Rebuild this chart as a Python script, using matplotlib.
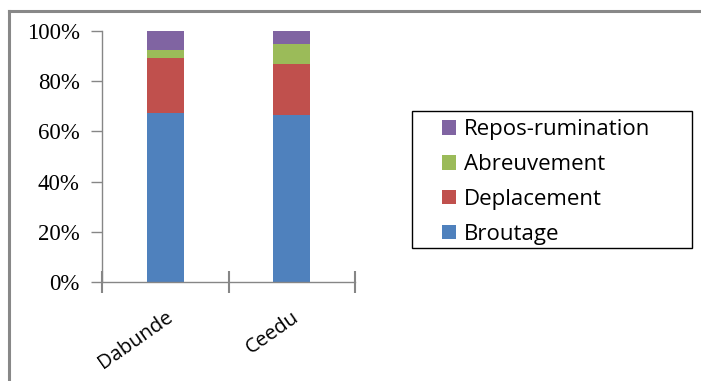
import numpy as np
import matplotlib.pyplot as plt
from matplotlib.lines import Line2D
from matplotlib.patches import Rectangle

# Data (percent of time per activity)
sites = ['Dabunde', 'Ceedu']
activities = ['Broutage', 'Deplacement', 'Abreuvement', 'Repos-rumination']
broutage = [67.3, 66.4]
deplacement = [21.9, 20.5]
abreuvement = [3.2, 8.0]
repos = [7.6, 5.1]
colors = ['#4F81BD', '#C0504D', '#9BBB59', '#8064A2']

series = [broutage, deplacement, abreuvement, repos]

fig = plt.figure(figsize=(7.01, 3.81), dpi=100)
ax = fig.add_axes([102 / 701, 1 - 282 / 381, 253 / 701, 251 / 381])

x = np.arange(len(sites))
bottom = np.zeros(len(sites))
handles = []
for vals, name, col in zip(series, activities, colors):
    b = ax.bar(x, vals, width=0.29, bottom=bottom, color=col, label=name)
    handles.append(b)
    bottom += np.array(vals)

ax.set_xlim(-0.5, len(sites) - 0.5)
ax.set_ylim(0, 100)

# y axis
ax.set_yticks(np.arange(0, 101, 20))
ax.set_yticklabels([f'{v}%' for v in range(0, 101, 20)],
                   family='Liberation Serif', fontsize=16.5)
ax.tick_params(axis='y', length=8, width=1, color='#868686', pad=8)

# x axis: boundary ticks crossing the axis, labels between
ax.set_xticks(np.arange(-0.5, len(sites), 1.0))
ax.set_xticklabels([])
ax.tick_params(axis='x', which='major', direction='inout', length=16,
               width=1.5, color='#868686')
ax.set_xticks(x, minor=True)
ax.set_xticklabels(sites, minor=True, rotation=35, ha='right',
                   rotation_mode='anchor', family='Open Sans', fontsize=14.5)
ax.tick_params(axis='x', which='minor', length=0, pad=18)

for s in ['top', 'right']:
    ax.spines[s].set_visible(False)
for s in ['left', 'bottom']:
    ax.spines[s].set_color('#868686')
    ax.spines[s].set_linewidth(1)

# legend box drawn separately, entries placed inside
fig.add_artist(Rectangle((412 / 701, 1 - 248 / 381), 280 / 701, 137 / 381,
                         transform=fig.transFigure, fill=False,
                         edgecolor='black', lw=1))
leg = fig.legend(handles[::-1], activities[::-1],
                 loc='upper left', bbox_to_anchor=(438 / 701, 1 - 115 / 381),
                 frameon=False,
                 prop={'family': 'Open Sans', 'size': 16},
                 handlelength=0.62, handleheight=0.62, handletextpad=0.35,
                 labelspacing=0.62, borderpad=0.2, borderaxespad=0)

# outer chart frame (top and left only)
fig.add_artist(Line2D([9 / 701, 1], [1 - 11 / 381, 1 - 11 / 381],
                      transform=fig.transFigure, color='#888888', lw=2.2))
fig.add_artist(Line2D([9 / 701, 9 / 701], [0, 1 - 11 / 381],
                      transform=fig.transFigure, color='#888888', lw=2.2))

fig.savefig('out.png', dpi=100)
